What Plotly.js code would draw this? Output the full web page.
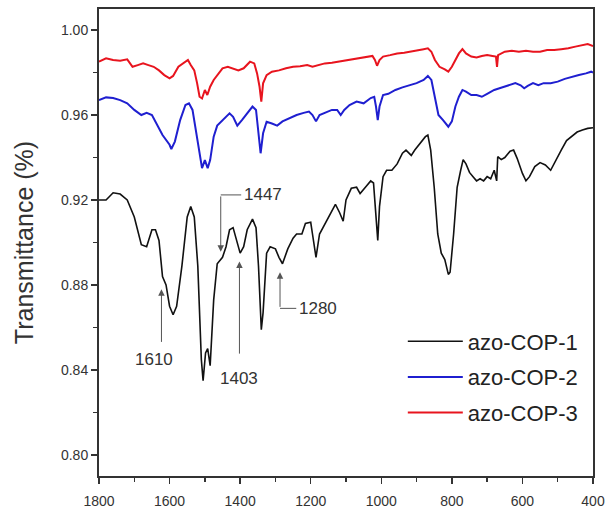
<!DOCTYPE html>
<html>
<head>
<meta charset="utf-8">
<script src="https://cdn.plot.ly/plotly-3.0.1.min.js"></script>
<style>html,body{margin:0;padding:0;background:#fff;}#chart{width:606px;height:514px;}</style>
</head>
<body>
<div id="chart"></div>
<script>
// azo-COP-1 (black)
const wn1 = [1800,1780,1760,1740,1720,1700,1680,1665,1650,1640,1630,1620,1610,1600,1590,1580,1565,1550,1540,1530,1520,1510,1505,1498,1492,1485,1475,1465,1450,1440,1430,1420,1410,1400,1390,1380,1365,1355,1348,1340,1335,1325,1315,1300,1290,1280,1265,1250,1240,1225,1215,1200,1195,1185,1175,1165,1150,1130,1118,1108,1100,1085,1070,1060,1045,1030,1022,1015,1010,1005,995,985,970,955,940,930,915,905,890,875,868,860,850,840,830,820,810,805,795,785,775,768,760,750,740,730,720,710,700,690,680,673,670,660,650,635,625,615,600,590,580,565,550,535,520,505,490,475,460,445,430,415,400];
const t1 = [0.920,0.920,0.9234,0.9228,0.920,0.912,0.899,0.898,0.906,0.906,0.901,0.884,0.880,0.870,0.866,0.870,0.889,0.912,0.917,0.912,0.889,0.845,0.835,0.848,0.850,0.842,0.873,0.890,0.893,0.898,0.906,0.907,0.901,0.895,0.898,0.906,0.911,0.907,0.889,0.859,0.867,0.895,0.898,0.897,0.893,0.890,0.897,0.902,0.904,0.904,0.909,0.9095,0.904,0.893,0.904,0.907,0.912,0.918,0.914,0.910,0.920,0.9255,0.926,0.923,0.926,0.929,0.928,0.911,0.901,0.917,0.931,0.934,0.934,0.937,0.942,0.9435,0.941,0.9435,0.9467,0.9498,0.9506,0.9435,0.926,0.904,0.895,0.892,0.885,0.886,0.904,0.926,0.934,0.939,0.937,0.933,0.931,0.929,0.930,0.929,0.931,0.930,0.934,0.929,0.9404,0.939,0.940,0.943,0.9435,0.9396,0.9325,0.929,0.931,0.9357,0.9376,0.9365,0.934,0.939,0.9435,0.948,0.950,0.952,0.953,0.9537,0.954];

// azo-COP-2 (blue)
const wn2 = [1800,1780,1760,1740,1720,1700,1680,1665,1650,1635,1620,1600,1595,1585,1570,1555,1545,1535,1525,1515,1508,1500,1492,1485,1475,1465,1450,1430,1420,1408,1395,1380,1365,1355,1350,1342,1335,1325,1310,1295,1280,1260,1240,1220,1205,1195,1185,1175,1160,1140,1125,1115,1105,1090,1070,1050,1030,1020,1015,1010,1005,995,980,960,940,920,900,880,868,858,848,838,825,810,800,790,780,770,760,745,730,715,700,680,665,650,635,620,605,595,585,570,555,540,520,500,480,460,440,420,405,400];
const t2 = [0.967,0.9683,0.968,0.967,0.9655,0.9624,0.960,0.961,0.960,0.955,0.9506,0.946,0.944,0.9475,0.9576,0.9647,0.9655,0.9624,0.9514,0.9404,0.935,0.9388,0.935,0.9388,0.9498,0.955,0.9576,0.9608,0.9592,0.955,0.9576,0.961,0.964,0.9624,0.9545,0.942,0.9514,0.9568,0.956,0.955,0.957,0.9584,0.960,0.961,0.9616,0.960,0.957,0.960,0.961,0.9624,0.9624,0.960,0.9624,0.9647,0.9663,0.9655,0.968,0.9686,0.964,0.9576,0.964,0.9694,0.970,0.9718,0.973,0.974,0.975,0.9765,0.9784,0.9765,0.9686,0.960,0.9576,0.9545,0.957,0.964,0.9686,0.9718,0.971,0.9694,0.9694,0.9686,0.970,0.9718,0.9726,0.9733,0.974,0.975,0.974,0.9726,0.9737,0.975,0.974,0.975,0.975,0.9757,0.977,0.978,0.9788,0.9796,0.9804,0.980];

// azo-COP-3 (red)
const wn3 = [1800,1780,1760,1740,1720,1705,1690,1675,1660,1645,1630,1615,1600,1590,1575,1560,1548,1540,1530,1522,1515,1508,1500,1493,1485,1475,1462,1450,1435,1420,1405,1390,1372,1360,1352,1345,1340,1335,1325,1310,1290,1270,1250,1230,1210,1195,1180,1160,1140,1120,1100,1080,1060,1040,1025,1018,1012,1005,995,975,955,935,915,895,880,868,858,848,835,820,810,800,790,780,770,760,745,730,715,700,685,675,672,669,650,630,610,590,570,550,530,510,490,470,450,430,415,400];
const t3 = [0.9851,0.9867,0.9859,0.9856,0.9862,0.9827,0.9835,0.9843,0.9835,0.9827,0.981,0.9788,0.9773,0.9784,0.9827,0.9843,0.9859,0.9835,0.981,0.975,0.9686,0.9678,0.9718,0.9694,0.9733,0.9765,0.9796,0.982,0.9827,0.982,0.981,0.982,0.9851,0.9843,0.9796,0.9733,0.9663,0.9749,0.9788,0.9804,0.981,0.982,0.9827,0.983,0.9835,0.9827,0.9835,0.9843,0.9846,0.9851,0.9859,0.9862,0.9867,0.9871,0.9878,0.9859,0.9832,0.9859,0.9875,0.9882,0.989,0.9893,0.9898,0.9906,0.991,0.9914,0.9898,0.9859,0.9827,0.9815,0.9804,0.9827,0.9859,0.989,0.991,0.989,0.9875,0.9871,0.9878,0.9882,0.9878,0.9875,0.9827,0.9882,0.9898,0.9902,0.9898,0.9902,0.9898,0.9898,0.9906,0.9906,0.991,0.9914,0.9922,0.993,0.9934,0.9925];

const seriesNames = ['azo-COP-1','azo-COP-2','azo-COP-3'];
const xTickVals = [1800,1600,1400,1200,1000,800,600,400];
const yTickVals = [0.80,0.84,0.88,0.92,0.96,1.00];

// peak labels
const peakLabels = ['1610','1447','1403','1280'];

const FONT = 'Arial, "Liberation Sans", sans-serif';
const colors = ['#111111','#1f1fd0','#e8141e'];
const widths = [1.6,2,2];
const xs = [wn1,wn2,wn3], ys = [t1,t2,t3];
const traces = seriesNames.map((n,i)=>({
  x: xs[i], y: ys[i], name: n, type:'scatter', mode:'lines',
  line:{color:colors[i], width:widths[i]}, legendgroup:'g'+i
}));

const ac = '#555';
const lblFont = {family:FONT,size:17,color:'#333'};
const annotations = [
  {x:1623,y:0.878,ax:1623,ay:0.8525,axref:'x',ayref:'y',xref:'x',yref:'y',text:'',showarrow:true,arrowhead:2,arrowsize:1.3,arrowwidth:1,arrowcolor:ac},
  {x:1643,y:0.8447,xref:'x',yref:'y',text:peakLabels[0],showarrow:false,font:lblFont},
  {x:1455,y:0.8957,ax:1455,ay:0.9224,axref:'x',ayref:'y',xref:'x',yref:'y',text:'',showarrow:true,arrowhead:2,arrowsize:1.3,arrowwidth:1,arrowcolor:ac},
  {x:1394,y:0.9224,xref:'x',yref:'y',xanchor:'left',text:peakLabels[1],showarrow:false,font:lblFont},
  {x:1402,y:0.891,ax:1402,ay:0.847,axref:'x',ayref:'y',xref:'x',yref:'y',text:'',showarrow:true,arrowhead:2,arrowsize:1.3,arrowwidth:1,arrowcolor:ac},
  {x:1402,y:0.836,xref:'x',yref:'y',text:peakLabels[2],showarrow:false,font:lblFont},
  {x:1287,y:0.886,ax:1287,ay:0.869,axref:'x',ayref:'y',xref:'x',yref:'y',text:'',showarrow:true,arrowhead:2,arrowsize:1.3,arrowwidth:1,arrowcolor:ac},
  {x:1238,y:0.869,xref:'x',yref:'y',xanchor:'left',text:peakLabels[3],showarrow:false,font:lblFont}
];
const shapes = [
  {type:'line',xref:'x',yref:'y',x0:1455,x1:1397,y0:0.9224,y1:0.9224,line:{color:ac,width:1}},
  {type:'line',xref:'x',yref:'y',x0:1287,x1:1241,y0:0.869,y1:0.869,line:{color:ac,width:1}}
];

const layout = {
  width:606, height:514,
  margin:{l:99,r:13,t:9,b:38},
  paper_bgcolor:'#fff', plot_bgcolor:'#fff',
  font:{family:FONT,color:'#333'},
  showlegend:true,
  legend:{x:0.615,y:0.333,xanchor:'left',yanchor:'top',bgcolor:'rgba(0,0,0,0)',
    font:{family:FONT,size:22,color:'#222'},itemwidth:55,traceorder:'grouped',tracegroupgap:4},
  xaxis:{range:[1800,400],autorange:false,tickvals:xTickVals,ticktext:xTickVals.map(String),
    ticks:'outside',ticklen:6,tickwidth:1.5,tickcolor:'#333',ticklabelstandoff:5,
    minor:{dtick:100,tick0:400,ticks:'outside',ticklen:4,tickwidth:1.5,tickcolor:'#333'},
    showline:true,linecolor:'#333',linewidth:2,mirror:true,showgrid:false,zeroline:false,
    tickfont:{family:FONT,size:14,color:'#333'}},
  yaxis:{range:[0.7901,1.0099],autorange:false,tickvals:yTickVals,ticktext:yTickVals.map(v=>v.toFixed(2)),
    ticks:'outside',ticklen:6,tickwidth:1.5,tickcolor:'#333',
    minor:{dtick:0.02,tick0:0.80,ticks:'outside',ticklen:4,tickwidth:1.5,tickcolor:'#333'},
    showline:true,linecolor:'#333',linewidth:2,mirror:true,showgrid:false,zeroline:false,
    tickfont:{family:FONT,size:14,color:'#333'},
    title:{text:'Transmittance (%)',font:{family:FONT,size:25,color:'#333'},standoff:20}},
  annotations:annotations,
  shapes:shapes
};
Plotly.newPlot('chart',traces,layout,{staticPlot:true});
</script>
</body>
</html>
